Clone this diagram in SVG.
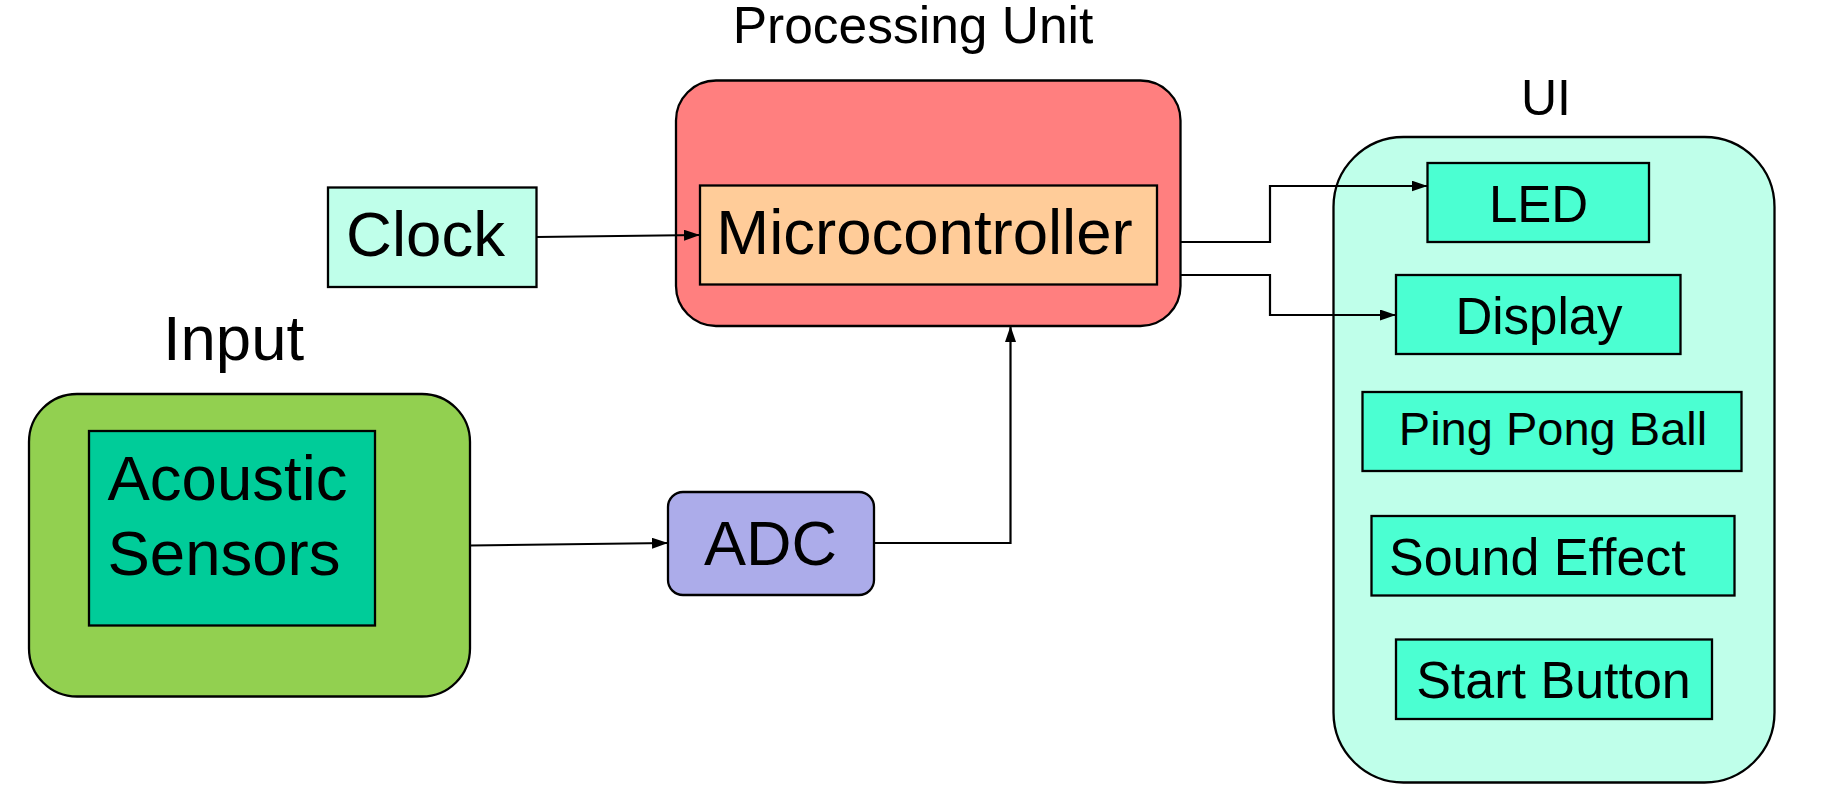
<svg xmlns="http://www.w3.org/2000/svg" width="1823" height="807" viewBox="0 0 1823 807">
<style>
  .box { stroke: #000; stroke-width: 2.3; }
  .lbl { font-family: "Liberation Sans", Arial, sans-serif; fill: #000; }
  .mid { text-anchor: middle; }
  .conn { fill: none; stroke: #000; stroke-width: 2.2; }
</style>
<defs>
  <marker id="arr" markerUnits="userSpaceOnUse" markerWidth="17" markerHeight="12" refX="16" refY="5.5" orient="auto">
    <path d="M0,0 L16,5.5 L0,11 z" fill="#000"/>
  </marker>
</defs>
<rect width="1823" height="807" fill="#fff"/>

<g id="processing-unit">
  <text class="lbl mid" x="913" y="43" font-size="51.5">Processing Unit</text>
  <rect class="box" x="676" y="80.5" width="504.5" height="245.5" rx="40" fill="#FF7F7F"/>
</g>
<g id="microcontroller">
  <rect class="box" x="700" y="185.5" width="457" height="99" fill="#FFCC99"/>
  <text class="lbl mid" x="924.5" y="254" font-size="63.5">Microcontroller</text>
</g>
<g id="clock">
  <rect class="box" x="328" y="187.5" width="208.5" height="99.5" fill="#BFFFEA"/>
  <text class="lbl mid" x="425.5" y="256" font-size="63.5">Clock</text>
</g>
<g id="input">
  <text class="lbl mid" x="233.5" y="360" font-size="63.5">Input</text>
  <rect class="box" x="29" y="394" width="441" height="302.5" rx="48" fill="#92D050"/>
</g>
<g id="acoustic-sensors">
  <rect class="box" x="89" y="431" width="286" height="194.5" fill="#00CC99"/>
  <text class="lbl" x="107.5" y="500" font-size="63.5">Acoustic</text>
  <text class="lbl" x="107.5" y="575" font-size="63.5">Sensors</text>
</g>
<g id="adc">
  <rect class="box" x="668" y="492" width="206" height="103" rx="15" fill="#ACACEA"/>
  <text class="lbl mid" x="770.5" y="565" font-size="63">ADC</text>
</g>
<g id="ui">
  <text class="lbl mid" x="1546" y="115" font-size="50">UI</text>
  <rect class="box" x="1333.5" y="137" width="441" height="645.5" rx="70" fill="#BFFFEA"/>
</g>
<g id="led">
  <rect class="box" x="1427.5" y="163" width="221.5" height="79" fill="#4BFFD2"/>
  <text class="lbl mid" x="1538.5" y="221.5" font-size="51">LED</text>
</g>
<g id="display">
  <rect class="box" x="1396" y="275" width="284.5" height="79" fill="#4BFFD2"/>
  <text class="lbl mid" x="1539" y="333.5" font-size="51">Display</text>
</g>
<g id="ping-pong-ball">
  <rect class="box" x="1362.5" y="392" width="379" height="79" fill="#4BFFD2"/>
  <text class="lbl mid" x="1553" y="445" font-size="47">Ping Pong Ball</text>
</g>
<g id="sound-effect">
  <rect class="box" x="1371.5" y="516" width="363" height="79.5" fill="#4BFFD2"/>
  <text class="lbl" x="1389" y="575" font-size="52">Sound Effect</text>
</g>
<g id="start-button">
  <rect class="box" x="1396" y="639.5" width="316" height="79.5" fill="#4BFFD2"/>
  <text class="lbl mid" x="1553.5" y="697.5" font-size="52">Start Button</text>
</g>

<g id="connectors">
  <path class="conn" d="M536.5,237 L700,235" marker-end="url(#arr)"/>
  <path class="conn" d="M470,545.5 L668,543" marker-end="url(#arr)"/>
  <path class="conn" d="M874,543 H1010.5 V326" marker-end="url(#arr)"/>
  <path class="conn" d="M1180.5,242 H1270 V186 H1427.5" marker-end="url(#arr)"/>
  <path class="conn" d="M1180.5,275 H1270 V315 H1396" marker-end="url(#arr)"/>
</g>
</svg>
